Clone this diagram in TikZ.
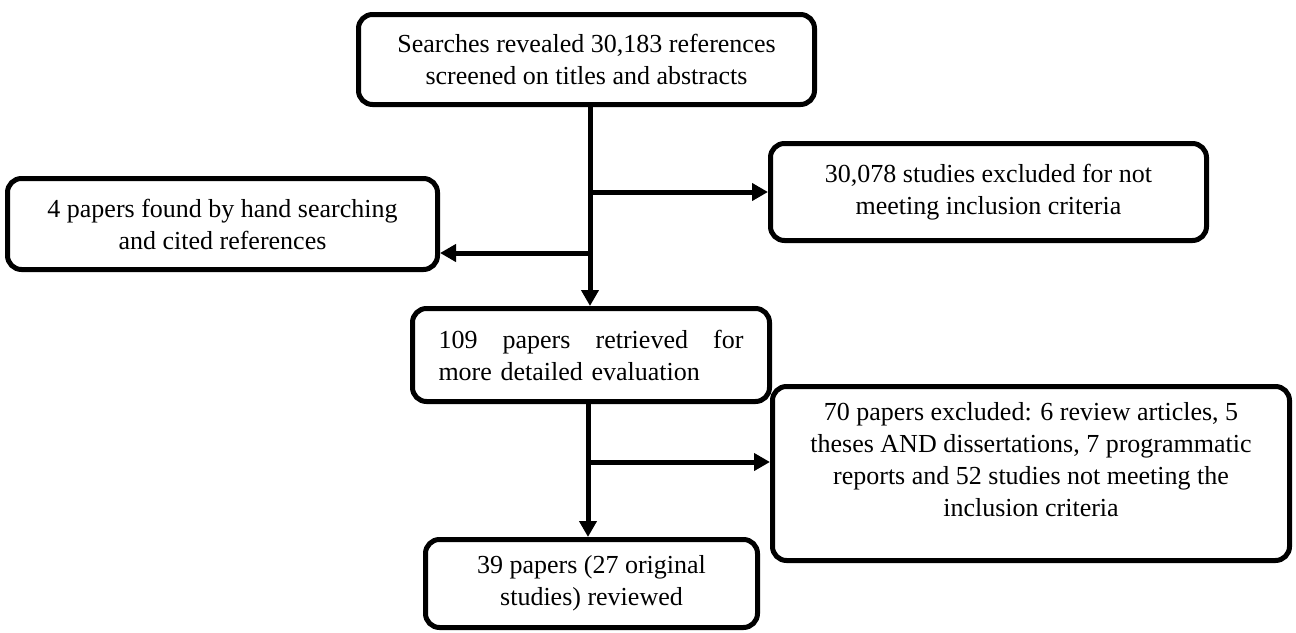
\documentclass[tikz,border=0pt]{standalone}
\usepackage{fontspec}
\setmainfont{Liberation Serif}
\usetikzlibrary{arrows.meta}
\begin{document}
\begin{tikzpicture}[x=0.5pt,y=-0.5pt,
  box/.style={draw, line width=2.5pt, rounded corners=7pt, align=center,
    font=\fontsize{13}{16}\selectfont, inner sep=0pt},
  txt/.style={align=center, font=\fontsize{13}{16}\selectfont, inner sep=0pt},
  arr/.style={line width=2.5pt, -{Triangle[length=8pt,width=8.5pt]}}]
\useasboundingbox (0,0) rectangle (1296,632);
\node[box, minimum width=228pt, minimum height=45pt] (b1) at (586.5,59.5)
  {Searches revealed 30,183 references\\screened on titles and abstracts};
\node[box, minimum width=218pt, minimum height=48.5pt] (b2) at (988.5,192)
  {30,078 studies excluded for not\\meeting inclusion criteria};
\node[box, minimum width=215pt, minimum height=45.5pt] (b3) at (222.5,224)
  {4 papers found by hand searching\\and cited references};
\node[box, minimum width=178.5pt, minimum height=46.5pt, align=left, text width=152.5pt] (b4) at (591,355)
  {109\hfill papers\hfill retrieved\hfill for\\more detailed evaluation};
\node[box, minimum width=258.5pt, minimum height=87pt] (b5) at (1031,473.5) {};
\node[txt] (t5) at (1031,460)
  {70 papers excluded: 6 review articles, 5\\theses AND dissertations, 7 programmatic\\reports and 52 studies not meeting the\\inclusion criteria};
\node[box, minimum width=166pt, minimum height=44pt] (b6) at (591.5,583.5)
  {39 papers (27 original\\studies) reviewed};
\coordinate (ja) at (590,192);
\coordinate (jb) at (590,253);
\coordinate (jc) at (588,462);
\draw[arr] (b1.south -| ja) -- (b4.north -| ja);
\draw[arr] (ja) -- (ja -| b2.west);
\draw[arr] (jb) -- (jb -| b3.east);
\draw[arr] (b4.south -| jc) -- (b6.north -| jc);
\draw[arr] (jc) -- (jc -| b5.west);
\end{tikzpicture}
\end{document}
